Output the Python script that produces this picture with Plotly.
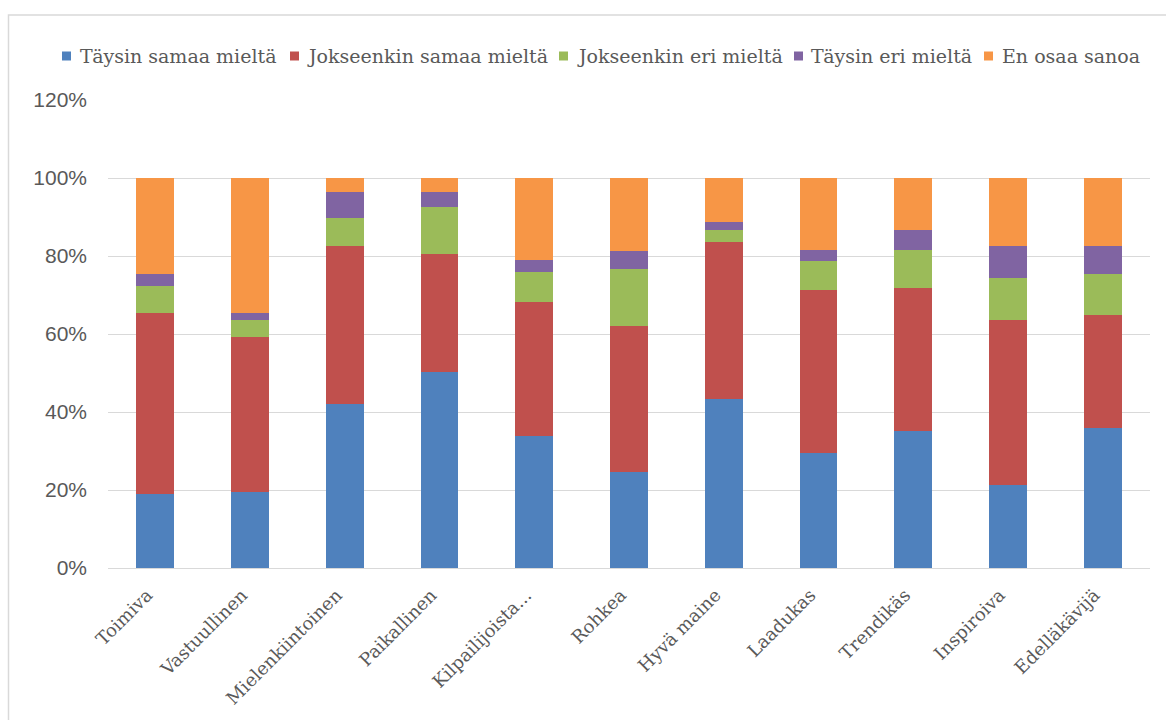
import plotly.graph_objects as go

categories = ["Toimiva", "Vastuullinen", "Mielenkiintoinen", "Paikallinen", "Kilpailijoista...",
              "Rohkea", "Hyvä maine", "Laadukas", "Trendikäs", "Inspiroiva", "Edelläkävijä"]

series_names = ["Täysin samaa mieltä", "Jokseenkin samaa mieltä", "Jokseenkin eri mieltä",
                "Täysin eri mieltä", "En osaa sanoa"]

taysin_samaa = [18.9, 19.6, 42.1, 50.3, 33.9, 24.6, 43.3, 29.4, 35.2, 21.3, 35.9]
jokseenkin_samaa = [46.5, 39.6, 40.4, 30.1, 34.4, 37.5, 40.4, 42.0, 36.7, 42.4, 29.0]
jokseenkin_eri = [6.9, 4.4, 7.3, 12.2, 7.7, 14.6, 2.9, 7.4, 9.7, 10.6, 10.5]
taysin_eri = [3.1, 1.8, 6.5, 3.7, 2.9, 4.6, 2.0, 2.8, 5.0, 8.2, 7.1]
en_osaa = [24.6, 34.6, 3.7, 3.7, 21.1, 18.7, 11.4, 18.4, 13.4, 17.5, 17.5]

colors = ["#4F81BD", "#C0504D", "#9BBB59", "#8064A2", "#F79646"]

y_ticks = [0, 20, 40, 60, 80, 100, 120]
y_tick_labels = ["0%", "20%", "40%", "60%", "80%", "100%", "120%"]

values = [taysin_samaa, jokseenkin_samaa, jokseenkin_eri, taysin_eri, en_osaa]

W, H = 1166, 720
ml, mr, mt, mb = 108, 16, 100, 152
PW, PH = W - ml - mr, H - mt - mb


def px_x(px):
    return (px - ml) / PW


def px_y(py):
    return (H - mb - py) / PH


fig = go.Figure()
for name, vals, col in zip(series_names, values, colors):
    fig.add_trace(go.Bar(
        x=categories, y=[v / 100 for v in vals], name=name,
        marker=dict(color=col, line=dict(width=0)),
        showlegend=False,
    ))

# legend drawn as layout decoration (positions in pixels)
legend_sq_left = [62, 290, 559, 794, 984]
legend_text_left = [79, 306, 576, 810, 1001]
legend_y = 56
shapes = []
annotations = []
for name, col, sx, tx in zip(series_names, colors, legend_sq_left, legend_text_left):
    shapes.append(dict(
        type="rect", xref="paper", yref="paper",
        x0=px_x(sx), x1=px_x(sx + 9), y0=px_y(legend_y + 4.5), y1=px_y(legend_y - 4.5),
        line=dict(width=0), fillcolor=col,
    ))
    annotations.append(dict(
        text=name, xref="paper", yref="paper", x=px_x(tx - 1), y=px_y(legend_y),
        xanchor="left", yanchor="middle", showarrow=False,
        font=dict(family="DejaVu Serif", size=19, color="#595959"),
    ))

shapes.append(dict(
    type="rect", xref="paper", yref="paper",
    x0=px_x(8.5), x1=px_x(W + 20), y0=px_y(H + 20), y1=px_y(15),
    line=dict(color="#D9D9D9", width=1.5), fillcolor="rgba(0,0,0,0)", layer="below",
))

fig.update_layout(
    width=W, height=H,
    barmode="stack", bargap=0.6,
    paper_bgcolor="white", plot_bgcolor="white",
    margin=dict(l=ml, r=mr, t=mt, b=mb),
    font=dict(family="DejaVu Serif", color="#595959", size=18),
    showlegend=False,
    xaxis=dict(
        tickangle=-45, showgrid=False, showline=False, ticks="",
        tickvals=categories, ticktext=[c + "\u00a0\u00a0" for c in categories],
        tickfont=dict(family="DejaVu Serif", size=18, color="#595959"),
        ticklabelstandoff=4,
    ),
    yaxis=dict(
        range=[0, 1.2], tickvals=[t / 100 for t in y_ticks], ticktext=y_tick_labels,
        showgrid=True, gridcolor="#D9D9D9", gridwidth=1,
        zeroline=True, zerolinecolor="#D9D9D9", zerolinewidth=1,
        showline=False, ticks="",
        tickfont=dict(family="Liberation Sans", size=21, color="#595959"),
        ticklabelstandoff=20,
    ),
    shapes=shapes,
    annotations=annotations,
)

fig.write_html("out.html")
